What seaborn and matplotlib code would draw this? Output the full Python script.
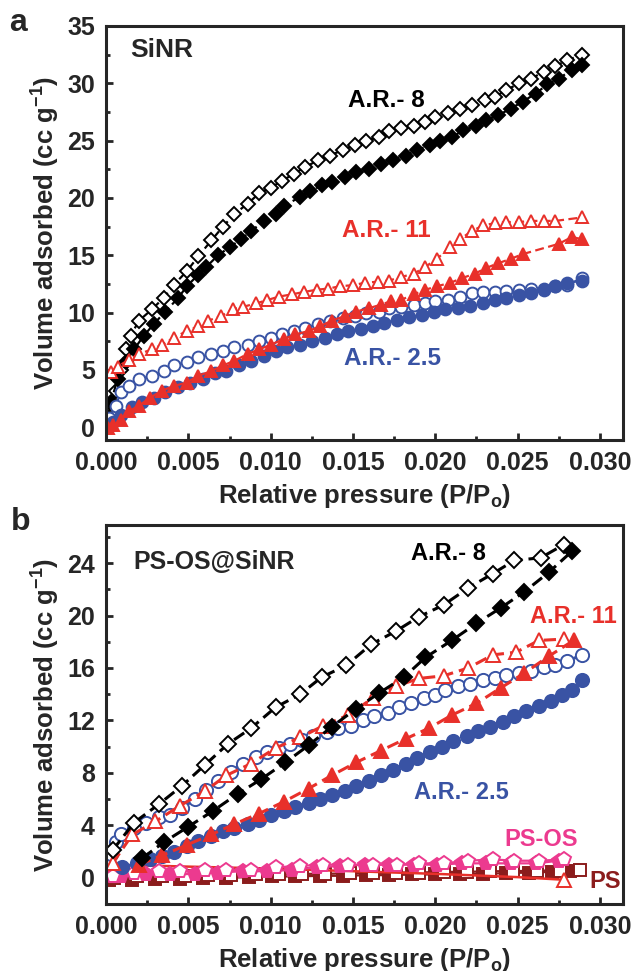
import numpy as np
import matplotlib
matplotlib.use('Agg')
import matplotlib.pyplot as plt
import seaborn as sns
from matplotlib.ticker import MultipleLocator, FormatStrFormatter

# relative pressure values are written in units of 1e-3 (P/Po)
# ---- panel a : SiNR ----
a_ar8_open_x = [0.3,0.6,0.9,1.2,1.5,2.0,2.8,3.5,4.1,4.9,5.6,6.4,7.1,7.8,8.6,9.3,10.0,10.7,11.4,12.1,12.9,13.6,14.4,15.1,15.8,16.6,17.2,17.9,18.7,19.4,20.0,20.8,21.5,22.2,23.0,23.6,24.3,25.1,25.8,26.6,27.3,28.0,28.9]
a_ar8_open_y = [2.0,3.2,5.0,6.8,8.0,9.3,10.3,11.3,12.4,13.6,14.9,16.3,17.5,18.6,19.5,20.4,20.9,21.5,22.1,22.7,23.3,23.7,24.2,24.6,25.0,25.3,25.8,26.1,26.3,26.6,27.1,27.4,27.8,28.1,28.5,28.8,29.4,30.0,30.4,31.0,31.5,32.0,32.5]
a_ar8_fill_x = [0.1,0.3,0.7,1.2,1.7,2.3,2.9,3.6,4.4,4.9,5.6,6.1,6.8,7.5,8.2,8.8,9.6,10.3,10.8,11.8,12.4,13.1,13.7,14.5,15.2,16.0,16.7,17.4,18.2,18.9,19.7,20.3,21.0,21.7,22.5,23.1,23.8,24.6,25.3,26.1,26.8,27.5,28.3,28.9]
a_ar8_fill_y = [0.8,2.2,4.2,5.7,6.8,8.0,9.0,10.1,11.3,12.3,13.3,14.0,15.0,15.7,16.4,17.1,18.0,18.6,19.3,20.1,20.6,21.1,21.4,21.8,22.3,22.5,23.0,23.3,23.7,24.2,24.6,25.0,25.3,25.9,26.3,26.8,27.2,27.8,28.4,29.1,29.9,30.4,31.2,31.6]
a_ar11_open_x = [0.3,0.7,1.4,2.0,2.8,3.4,4.1,4.9,5.6,6.2,7.0,7.7,8.3,9.1,9.8,10.5,11.3,12.0,12.8,13.5,14.2,15.0,15.7,16.5,17.2,17.9,18.7,19.4,20.1,20.9,21.5,22.2,22.9,23.6,24.3,25.1,25.8,26.6,27.3,28.9]
a_ar11_open_y = [4.8,5.3,5.9,6.4,6.8,7.2,7.8,8.4,8.8,9.3,9.7,10.3,10.5,10.8,11.1,11.4,11.6,11.8,12.0,12.1,12.3,12.4,12.6,12.7,12.8,13.1,13.4,14.0,14.7,15.7,16.4,17.1,17.6,17.8,17.9,17.9,18.0,18.0,18.0,18.3]
a_ar11_fill_x = [0.1,0.4,0.9,1.4,2.0,2.7,3.4,4.1,4.9,5.6,6.4,7.1,7.8,8.6,9.3,10.0,10.8,11.5,12.3,13.0,13.7,14.5,15.2,16.0,16.7,17.3,17.9,18.7,19.4,20.1,20.9,21.6,22.4,23.1,23.8,24.6,25.3,27.5,28.3,28.9]
a_ar11_fill_y = [-0.1,0.2,0.6,1.4,1.9,2.6,3.2,3.6,3.9,4.5,4.9,5.4,5.8,6.4,6.8,7.2,7.7,8.1,8.4,8.8,9.3,9.7,10.1,10.4,10.7,11.0,11.1,11.6,12.0,12.3,12.6,13.0,13.4,13.9,14.3,14.7,15.1,16.0,16.6,16.4]
a_ar25_open_x = [0.2,0.6,0.9,1.4,2.0,2.8,3.5,4.1,4.9,5.6,6.4,7.1,7.8,8.6,9.3,10.0,10.7,11.4,12.1,12.9,13.6,14.4,15.1,15.8,16.6,17.2,17.9,18.7,19.4,20.0,20.8,21.5,22.2,22.9,23.6,24.3,25.1,25.8,26.6,27.3,28.0,28.9]
a_ar25_open_y = [0.8,1.9,3.1,3.6,4.2,4.5,4.9,5.4,5.7,6.1,6.4,6.7,7.0,7.2,7.5,7.8,8.1,8.4,8.7,9.0,9.3,9.5,9.7,10.0,10.1,10.4,10.5,10.7,10.8,11.0,11.1,11.4,11.7,11.8,11.8,11.9,12.0,12.1,12.1,12.3,12.4,13.0]
a_ar25_fill_x = [0.4,0.9,1.6,2.2,2.9,3.6,4.4,5.1,5.9,6.6,7.3,8.1,8.8,9.6,10.3,11.0,11.8,12.5,13.3,14.0,14.7,15.5,16.2,16.9,17.7,18.4,19.2,19.9,20.6,21.4,22.1,22.9,23.6,24.3,25.1,25.8,26.6,27.3,28.0,28.9]
a_ar25_fill_y = [0.5,1.1,1.8,2.2,2.6,3.1,3.5,3.9,4.2,4.7,4.9,5.4,5.8,6.2,6.7,7.0,7.2,7.5,7.8,8.1,8.4,8.6,8.8,9.1,9.4,9.6,9.8,10.1,10.3,10.4,10.6,10.8,11.1,11.3,11.5,11.7,12.0,12.3,12.6,12.8]

# ---- panel b : PS-OS@SiNR ----
b_ar8_open_x = [0.4,1.7,3.2,4.6,6.0,7.4,8.8,10.3,11.8,13.1,14.6,16.1,17.6,19.0,20.5,22.0,23.5,24.8,26.4,27.8]
b_ar8_open_y = [2.1,4.2,5.6,7.0,8.6,10.2,11.4,13.0,14.0,15.3,16.2,17.8,18.8,19.9,20.8,22.1,23.2,24.2,24.4,25.4]
b_ar8_fill_x = [2.2,3.5,5.0,6.5,8.0,9.4,10.9,12.3,13.7,15.2,16.6,18.1,19.4,21.0,22.5,24.0,25.4,26.9,28.3]
b_ar8_fill_y = [1.5,2.7,3.9,5.1,6.4,7.5,8.8,10.1,11.5,12.9,14.1,15.3,16.8,18.1,19.4,20.6,21.8,23.3,24.9]
b_ar11_open_x = [0.4,1.6,3.0,4.5,6.0,7.3,8.8,10.3,11.8,13.2,14.7,16.2,17.6,19.0,20.5,22.0,23.5,24.9,26.3,27.8]
b_ar11_open_y = [1.1,3.3,4.3,5.5,6.6,7.8,8.7,9.9,10.7,11.6,12.4,13.7,14.6,15.2,15.4,16.0,17.0,17.2,18.1,18.2]
b_ar11_fill_x = [2.0,3.4,4.9,6.4,7.8,9.3,10.8,12.3,13.7,15.2,16.7,18.2,19.6,21.0,22.5,24.0,25.4,26.9,28.4]
b_ar11_fill_y = [1.0,1.7,2.5,3.3,4.1,4.9,5.8,6.8,7.8,8.8,9.7,10.6,11.4,12.4,13.3,14.5,15.6,16.9,18.1]
b_ar25_open_x = [0.3,0.6,0.9,1.7,2.4,3.2,3.9,4.6,5.4,6.1,6.8,7.6,8.3,9.1,9.8,10.5,11.2,11.9,12.6,13.4,14.1,14.9,15.6,16.3,17.1,17.8,18.5,19.3,20.0,20.6,21.4,22.1,22.9,23.6,24.3,25.1,25.8,26.6,27.3,28.0,28.9]
b_ar25_open_y = [1.8,2.7,3.3,3.8,4.2,4.6,4.8,5.3,6.0,6.7,7.4,8.1,8.7,9.2,9.6,9.9,10.2,10.5,10.8,11.1,11.4,11.6,12.0,12.3,12.6,13.0,13.3,13.7,13.9,14.3,14.6,14.8,15.1,15.2,15.5,15.6,15.8,16.1,16.2,16.5,17.0]
b_ar25_fill_x = [1.0,1.9,2.7,3.4,4.1,4.9,5.6,6.4,7.1,7.8,8.6,9.3,10.0,10.8,11.5,12.3,13.0,13.7,14.5,15.2,16.0,16.7,17.4,18.2,18.9,19.7,20.4,21.1,21.9,22.6,23.3,24.1,24.8,25.5,26.3,27.0,27.7,28.3,28.9]
b_ar25_fill_y = [0.8,1.1,1.4,1.65,2.0,2.4,2.8,3.2,3.6,3.8,4.1,4.4,4.8,5.1,5.4,5.7,6.0,6.3,6.6,7.0,7.4,7.8,8.2,8.7,9.1,9.6,10.0,10.4,10.8,11.2,11.5,11.9,12.3,12.7,13.1,13.5,13.9,14.3,15.1]
b_psos_open_x = [0.4,1.7,3.2,4.5,6.0,7.3,8.8,10.3,11.8,13.2,14.7,16.2,17.7,19.0,20.5,22.0,23.5,24.8,26.3,27.8]
b_psos_open_y = [0.1,0.4,0.5,0.5,0.6,0.6,0.6,0.8,0.9,1.0,1.0,1.0,1.0,1.1,1.1,1.3,1.4,1.3,1.3,1.4]
b_psos_fill_x = [0.9,2.4,3.9,5.4,6.8,8.3,9.8,11.3,12.8,14.2,15.7,17.2,18.7,20.1,21.6,23.1,24.6,26.1,27.5]
b_psos_fill_y = [0.1,0.25,0.25,0.3,0.4,0.5,0.5,0.6,0.8,0.9,1.0,1.0,1.0,1.0,1.1,1.1,1.1,1.1,1.3]
b_ps_open_x = [0.5,1.9,3.4,4.8,6.2,7.6,9.1,10.5,11.9,13.3,14.8,16.2,17.6,19.0,20.5,21.9,23.3,24.7,26.2,27.6,28.8]
b_ps_open_y = [0.0,0.1,0.1,0.15,0.2,0.2,0.25,0.25,0.3,0.3,0.35,0.35,0.4,0.4,0.45,0.45,0.5,0.5,0.55,0.55,0.6]
b_ps_fill_x = [0.2,1.6,3.0,4.5,5.9,7.3,8.7,10.1,11.5,13.0,14.4,15.8,17.2,18.6,20.0,21.5,22.9,24.3,25.7,27.1,28.2]
b_ps_fill_y = [-0.2,-0.2,-0.1,-0.1,0.0,0.0,0.05,0.1,0.1,0.15,0.15,0.2,0.2,0.25,0.25,0.3,0.3,0.35,0.4,0.45,0.5]
b_redline_x = [0.4,5.0,10.0,15.0,20.0,25.0,27.8]
b_redline_y = [1.0,0.85,0.7,0.5,0.3,0.05,-0.15]

black = '#000000'
red = '#e8302a'
blue = '#3953a4'
pink = '#ec3a8f'
dred = '#8b1c1c'

sns.set_style('ticks')
plt.rcParams['font.family'] = ['Liberation Sans', 'DejaVu Sans']
plt.rcParams['font.weight'] = 'bold'
plt.rcParams['axes.labelweight'] = 'bold'
plt.rcParams['mathtext.fontset'] = 'custom'
plt.rcParams['mathtext.rm'] = 'Liberation Sans:bold'
plt.rcParams['mathtext.bf'] = 'Liberation Sans:bold'
plt.rcParams['mathtext.default'] = 'bf'


def curve(ax, x, y, color, marker, ms, filled, ls=(0, (4, 2)), lw=1.6, z=2, mew=1.4):
    sns.lineplot(x=np.array(x) / 1000, y=y, ax=ax, color=color, marker=marker,
                 markersize=ms, markerfacecolor=color if filled else 'white',
                 markeredgecolor=color, markeredgewidth=mew, linestyle=ls,
                 linewidth=lw, zorder=z, sort=False, legend=False, errorbar=None)


def style_axes(ax, ymin, ymax, ymaj, ymin_step):
    ax.set_xlim(0, 0.0314)
    ax.set_ylim(ymin, ymax)
    ax.xaxis.set_major_locator(MultipleLocator(0.005))
    ax.xaxis.set_minor_locator(MultipleLocator(0.0025))
    ax.xaxis.set_major_formatter(FormatStrFormatter('%.3f'))
    ax.yaxis.set_major_locator(MultipleLocator(ymaj))
    ax.yaxis.set_minor_locator(MultipleLocator(ymin_step))
    ax.tick_params(which='both', direction='in', top=False, right=False,
                   width=2, labelsize=18, pad=8)
    ax.tick_params(which='major', length=5)
    ax.tick_params(which='minor', length=3)
    for s in ax.spines.values():
        s.set_visible(True)
        s.set_linewidth(2.2)
    ax.set_xlabel(r'Relative pressure (P/P$_\mathbf{o}$)', fontsize=18.5, labelpad=5)
    ax.set_ylabel(r'Volume adsorbed (cc g$^{\mathbf{-1}}$)', fontsize=18.5)
    ax.yaxis.set_label_coords(-0.085, 0.5)


fig = plt.figure(figsize=(6.33, 9.71), dpi=100)
ax1 = fig.add_axes([0.1675, 0.5469, 0.8167, 0.4264])
ax2 = fig.add_axes([0.1675, 0.069, 0.8167, 0.3903])

# panel a
curve(ax1, a_ar8_open_x, a_ar8_open_y, black, 'D', 7, False)
curve(ax1, a_ar8_fill_x, a_ar8_fill_y, black, 'D', 7, True)
curve(ax1, a_ar25_open_x, a_ar25_open_y, blue, 'o', 8.5, False)
curve(ax1, a_ar25_fill_x, a_ar25_fill_y, blue, 'o', 8.5, True)
curve(ax1, a_ar11_open_x, a_ar11_open_y, red, '^', 9, False)
curve(ax1, a_ar11_fill_x, a_ar11_fill_y, red, '^', 9, True)
style_axes(ax1, -1.1, 35, 5, 2.5)
ax1.text(0.046, 0.942, 'SiNR', transform=ax1.transAxes, fontsize=19, ha='left', va='center')
ax1.text(0.0170, 28.5, 'A.R.- 8', color=black, fontsize=17.5, ha='center', va='center')
ax1.text(0.0170, 17.2, 'A.R.- 11', color=red, fontsize=17.5, ha='center', va='center')
ax1.text(0.0174, 6.0, 'A.R.- 2.5', color=blue, fontsize=17.5, ha='center', va='center')
fig.text(0.028, 0.976, 'a', fontsize=23, ha='center', va='center')

# panel b
curve(ax2, b_ps_fill_x, b_ps_fill_y, dred, 's', 8, True, ls='-', lw=1.6)
curve(ax2, b_ps_open_x, b_ps_open_y, dred, 's', 8, False, ls='-', lw=1.6)
curve(ax2, b_redline_x, b_redline_y, red, None, 0, False, ls='-', lw=1.8)
ax2.plot(b_redline_x[-1] / 1000, b_redline_y[-1], marker='^', ms=10, mfc='white', mec=red, mew=1.4)
curve(ax2, b_psos_fill_x, b_psos_fill_y, pink, 'p', 10.5, True, ls='-', lw=1.6)
curve(ax2, b_psos_open_x, b_psos_open_y, pink, 'p', 10.5, False, ls='-', lw=1.6)
curve(ax2, b_ar25_open_x, b_ar25_open_y, blue, 'o', 9.5, False, lw=2.2)
curve(ax2, b_ar25_fill_x, b_ar25_fill_y, blue, 'o', 9.5, True, lw=2.2)
curve(ax2, b_ar11_open_x, b_ar11_open_y, red, '^', 10.5, False, lw=2.2)
curve(ax2, b_ar11_fill_x, b_ar11_fill_y, red, '^', 10.5, True, lw=2.2)
curve(ax2, b_ar8_open_x, b_ar8_open_y, black, 'D', 8, False, lw=2.2)
curve(ax2, b_ar8_fill_x, b_ar8_fill_y, black, 'D', 8, True, lw=2.2)
style_axes(ax2, -2.0, 26.9, 4, 2)
ax2.text(0.052, 0.902, 'PS-OS@SiNR', transform=ax2.transAxes, fontsize=18, ha='left', va='center')
ax2.text(0.0208, 24.7, 'A.R.- 8', color=black, fontsize=17, ha='center', va='center')
ax2.text(0.0284, 19.9, 'A.R.- 11', color=red, fontsize=17, ha='center', va='center')
ax2.text(0.0216, 6.5, 'A.R.- 2.5', color=blue, fontsize=17, ha='center', va='center')
ax2.text(0.0264, 2.9, 'PS-OS', color=pink, fontsize=17, ha='center', va='center')
ax2.text(0.0303, -0.3, 'PS', color=dred, fontsize=17, ha='center', va='center')
fig.text(0.032, 0.4624, 'b', fontsize=23, ha='center', va='center')

fig.savefig('out.png', dpi=100)
